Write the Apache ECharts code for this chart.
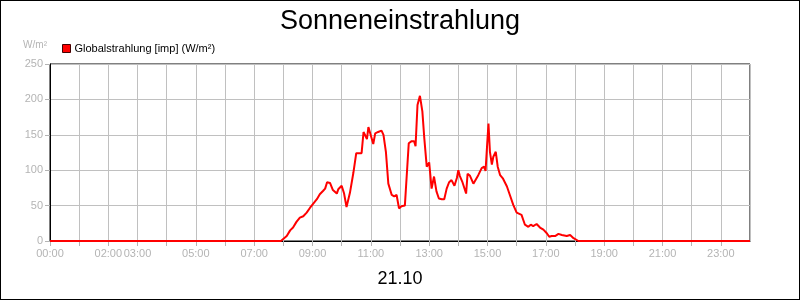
<!DOCTYPE html>
<html>
<head>
<meta charset="utf-8">
<script src="https://cdn.jsdelivr.net/npm/echarts@6/dist/echarts.min.js"></script>
<style>
html,body{margin:0;padding:0;background:#fff;}
#wrap{position:relative;width:800px;height:300px;}
#c{width:800px;height:300px;}
#frame{position:absolute;left:0;top:0;width:800px;height:300px;box-sizing:border-box;border:1px solid #000;pointer-events:none;}
</style>
</head>
<body>
<div id="wrap"><div id="c"></div><div id="frame"></div></div>
<script>
const title = 'Sonneneinstrahlung';
const subtitle = '21.10';
const seriesName = 'Globalstrahlung [imp] (W/m²)';
const unitLabel = 'W/m²';
const shownHourLabels = [0, 2, 3, 5, 7, 9, 11, 13, 15, 17, 19, 21, 23];
const times = ['00:00','07:55','08:07','08:14','08:20','08:27','08:34','08:41','08:48','08:55','09:02','09:09','09:15','09:22','09:26','09:30','09:36','09:42','09:46','09:50','09:53','10:00','10:05','10:10','10:17','10:24','10:30','10:34','10:41','10:45','10:48','10:52','10:55','10:58','11:05','11:09','11:15','11:22','11:26','11:31','11:36','11:43','11:48','11:53','11:58','12:03','12:10','12:18','12:24','12:29','12:32','12:36','12:41','12:46','12:50','12:55','13:00','13:05','13:10','13:15','13:20','13:26','13:31','13:36','13:41','13:46','13:52','13:57','14:00','14:03','14:08','14:12','14:16','14:19','14:24','14:31','14:41','14:48','14:53','14:56','14:59','15:02','15:05','15:09','15:12','15:17','15:21','15:26','15:32','15:40','15:46','15:53','16:00','16:10','16:17','16:24','16:29','16:34','16:41','16:48','16:55','17:02','17:07','17:12','17:19','17:26','17:33','17:43','17:50','17:57','18:07','24:00'];
const values = [0,0,7,15,19,27,33,35,40,47,53,59,66,71,74,83,82,72,72,67,73,78,67,48,68,96,124,124,124,154,152,144,161,159,137,152,154,156,150,126,81,65,63,65,46,49,50,138,141,141,134,192,205,183,145,105,111,74,91,70,60,59,59,74,83,86,78,89,100,92,84,83,67,95,92,81,93,103,105,99,133,166,126,108,119,126,105,93,88,77,65,51,40,37,23,20,23,21,24,19,16,11,6,7,7,10,8.5,7,8.5,4,0,0];

function toHour(t){const p=t.split(':');return +p[0]+(+p[1])/60;}
const data = times.map((t,i)=>[toHour(t), values[i]]);

const chart = echarts.init(document.getElementById('c'), null, {renderer:'canvas'});
const FONT = '"Liberation Sans", Arial, sans-serif';
const GRAY = '#b4b4b4';
chart.setOption({
  animation:false,
  backgroundColor:'#fff',
  textStyle:{fontFamily:FONT},
  title:[
    {text:title,left:'center',top:3,textStyle:{fontFamily:FONT,fontSize:27,fontWeight:'normal',color:'#000'}},
    {text:subtitle,left:'center',top:265,textStyle:{fontFamily:FONT,fontSize:18,fontWeight:'normal',color:'#000'}}
  ],
  legend:{
    left:57,top:38,itemWidth:8,itemHeight:8,itemGap:4,icon:'rect',
    textStyle:{fontFamily:FONT,fontSize:11,color:'#000',padding:[0,0,0,-1]},
    itemStyle:{borderColor:'#400',borderWidth:1},
    data:[seriesName]
  },
  grid:{left:50,right:50,top:64,bottom:59,show:true,borderColor:'#000',borderWidth:1,containLabel:false},
  xAxis:{
    type:'value',min:0,max:24,interval:1,
    axisLine:{lineStyle:{color:'#000',width:1}},
    axisTick:{show:true,length:5,lineStyle:{color:GRAY}},
    splitLine:{show:true,lineStyle:{color:'#c0c0c0',width:1}},
    axisLabel:{color:GRAY,fontSize:11,fontFamily:FONT,margin:7,showMaxLabel:false,
      formatter:function(v){return shownHourLabels.indexOf(v)>=0?((v<10?'0':'')+v+':00'):'';}}
  },
  yAxis:{
    type:'value',min:0,max:250,interval:50,
    name:unitLabel,nameLocation:'end',nameGap:14,
    nameTextStyle:{color:GRAY,fontSize:10,fontFamily:FONT,align:'right',padding:[0,3,0,0]},
    axisLine:{show:true,lineStyle:{color:'#000',width:1}},
    axisTick:{show:true,length:5,lineStyle:{color:GRAY}},
    splitLine:{show:true,lineStyle:{color:'#c0c0c0',width:1}},
    axisLabel:{color:GRAY,fontSize:11,fontFamily:FONT,margin:7}
  },
  series:[{
    name:seriesName,type:'line',data:data,showSymbol:false,symbol:'none',
    lineStyle:{color:'#ff0000',width:2},itemStyle:{color:'#ff0000'}
  }]
});
</script>
</body>
</html>
